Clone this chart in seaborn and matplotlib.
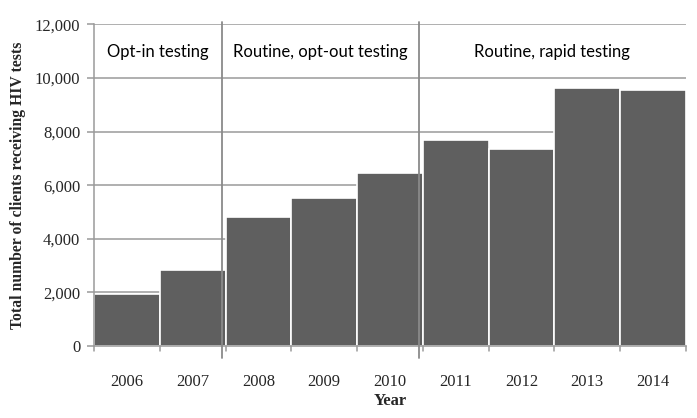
"""HIV testing volume by year, bar chart recreated with seaborn"""
import matplotlib
matplotlib.use("Agg")
import matplotlib.pyplot as plt
import pandas as pd
import seaborn as sns

years = ["2006", "2007", "2008", "2009", "2010", "2011", "2012", "2013", "2014"]
clients = [1930, 2840, 4800, 5510, 6440, 7690, 7350, 9620, 9540]

phase_labels = ["Opt-in testing", "Routine, opt-out testing", "Routine, rapid testing"]
phase_bounds = [1.45, 4.44]  # separator positions between phases

df = pd.DataFrame({"year": years, "clients": clients})

sns.set_theme(style="white")
plt.rcParams["font.family"] = ["Liberation Serif", "DejaVu Serif"]

fig = plt.figure(figsize=(6.97, 4.18), dpi=100)
ax = fig.add_axes([0.135, 0.172, 0.849, 0.770])

# gridlines behind bars
ax.set_axisbelow(True)
ax.yaxis.grid(True, color="#9a9a9a", linewidth=1.1)

sns.barplot(data=df, x="year", y="clients", color="#5f5f5f", saturation=1,
            width=1, edgecolor="white", linewidth=1.2, ax=ax)

ax.set_xlim(-0.5, 8.5)
ax.set_ylim(0, 12000)
ax.set_yticks(range(0, 12001, 2000))
ax.set_yticklabels([f"{v:,}" for v in range(0, 12001, 2000)], fontsize=12)
ax.set_xticks(range(len(years)))
ax.set_xticklabels(years, fontsize=12)
ax.tick_params(axis="x", length=0, pad=20)
ax.tick_params(axis="y", length=5, color="#9a9a9a", width=1.1, pad=5, left=True)

# tick marks between categories
for b in [i + 0.5 for i in range(-1, len(years))]:
    ax.plot([b, b], [0, -0.014], transform=ax.get_xaxis_transform(),
            color="#9a9a9a", linewidth=1.1, clip_on=False)

for side in ["top", "right"]:
    ax.spines[side].set_visible(False)
for side in ["left", "bottom"]:
    ax.spines[side].set_color("#9a9a9a")
    ax.spines[side].set_linewidth(1.1)

# phase separators, run a bit past the axes
for xb in phase_bounds:
    ax.plot([xb, xb], [-0.038, 1.008], transform=ax.get_xaxis_transform(),
            color="#8a8a8a", linewidth=1.3, clip_on=False, zorder=5)

centers = [(-0.5 + phase_bounds[0]) / 2, sum(phase_bounds) / 2, (phase_bounds[1] + 8.5) / 2]
for cx, lab in zip(centers, phase_labels):
    ax.text(cx, 10950, lab, ha="center", va="center", fontsize=12,
            family=["Lato", "DejaVu Sans"], color="black")

ax.set_xlabel("Year", fontsize=12, fontweight="bold", labelpad=2)
ax.set_ylabel("Total number of clients receiving HIV tests", fontsize=11.3,
              fontweight="bold", labelpad=6)

fig.savefig("out.png", dpi=100)
